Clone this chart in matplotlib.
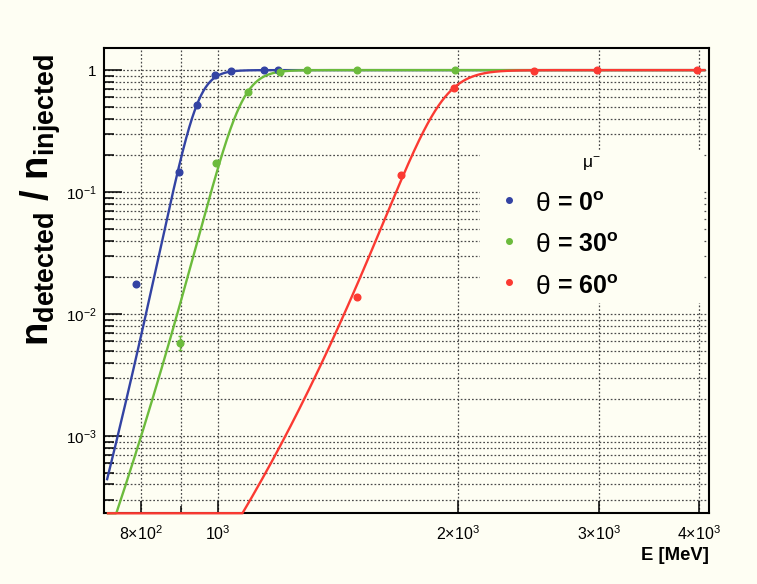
import numpy as np
import matplotlib
matplotlib.use("Agg")
import matplotlib.pyplot as plt
from matplotlib.ticker import FixedLocator, FixedFormatter, NullFormatter
from matplotlib.patches import Rectangle
from matplotlib.lines import Line2D

plt.rcParams["font.family"] = ["Liberation Sans", "DejaVu Sans"]
plt.rcParams["mathtext.fontset"] = "custom"
plt.rcParams["mathtext.rm"] = "Liberation Sans"
plt.rcParams["mathtext.it"] = "Liberation Sans:italic"
plt.rcParams["mathtext.bf"] = "Liberation Sans:bold"

# ---- measured detection efficiency for mu- at three zenith angles ----
energy_0 = [790, 895, 941, 993, 1038, 1142, 1190]
eff_0 = [0.0176, 0.145, 0.516, 0.91, 0.99, 1.0, 1.0]

energy_30 = [897, 994, 1092, 1196, 1292, 1494, 1982]
eff_30 = [0.0058, 0.172, 0.656, 0.968, 1.0, 1.0, 1.0]
err_30 = [0.00075, 0.004, 0.01, 0.004, 0.0, 0.0, 0.0]

energy_60 = [1493, 1696, 1978, 2485, 2985, 3977]
eff_60 = [0.0139, 0.138, 0.72, 0.987, 1.0, 1.0]

# logistic fit parameters: (plateau, E0 [MeV], width [MeV])
fit_0 = (1.0, 939.0, 27.5)
fit_30 = (1.0, 1064.0, 38.0)
fit_60 = (1.0, 1885.0, 97.0)
fit_range = (726.0, 4080.0)

angles = ["0", "30", "60"]
colors = ["#3343a3", "#6cbb3c", "#fb3a32"]

x_major = [800, 1000, 2000, 3000, 4000]
x_major_labels = [r"8×10$^{2}$", r"10$^{3}$", r"2×10$^{3}$",
                  r"3×10$^{3}$", r"4×10$^{3}$"]
x_minor = [900]
y_major = [1e-3, 1e-2, 1e-1, 1.0]
y_major_labels = [r"10$^{-3}$", r"10$^{-2}$", r"10$^{-1}$", "1"]

xlim = (719.0, 4118.0)
ylim = (2.32e-4, 1.51)

bg = "#fefef3"
W, H = 757, 584


def fx(px):
    return px / W


def fy(py):
    return 1.0 - py / H


def logistic(e, p):
    amp, e0, w = p
    return amp / (1.0 + np.exp(-(e - e0) / w))


fig = plt.figure(figsize=(W / 100, H / 100), dpi=100, facecolor=bg)
left, right, top, bottom = 103.5, 708.7, 48.3, 513.3
ax = fig.add_axes([fx(left), fy(bottom), (right - left) / W, (bottom - top) / H])
ax.set_facecolor(bg)
ax.set_xscale("log")
ax.set_yscale("log")
ax.set_xlim(*xlim)
ax.set_ylim(*ylim)

# ticks and grid
ax.xaxis.set_major_locator(FixedLocator(x_major))
ax.xaxis.set_major_formatter(FixedFormatter(x_major_labels))
ax.xaxis.set_minor_locator(FixedLocator(x_minor))
ax.xaxis.set_minor_formatter(NullFormatter())
ax.yaxis.set_major_locator(FixedLocator(y_major))
ax.yaxis.set_major_formatter(FixedFormatter(y_major_labels))
y_minor = [m * 10.0 ** d for d in range(-4, 0) for m in range(2, 10)]
y_minor = [v for v in y_minor if ylim[0] < v < ylim[1]]
ax.yaxis.set_minor_locator(FixedLocator(y_minor))
ax.yaxis.set_minor_formatter(NullFormatter())

ax.tick_params(axis="y", which="major", direction="in", length=13, width=1.1,
               pad=5, labelsize=11, color="black")
ax.tick_params(axis="y", which="minor", direction="in", length=7, width=1.1)
ax.tick_params(axis="x", which="major", direction="in", length=9, width=1.1,
               pad=8, labelsize=11.5)
ax.tick_params(axis="x", which="minor", direction="in", length=5, width=1.1)
ax.set_axisbelow(True)
ax.grid(which="both", color="#4a4a4a", linestyle=(0, (1.4, 1.6)), linewidth=0.9)
for s in ax.spines.values():
    s.set_linewidth(1.5)
    s.set_color("black")

# legend backing box (covers the grid)
ax.add_patch(Rectangle((fx(480), fy(303)), fx(704) - fx(480), fy(150) - fy(303),
                       transform=fig.transFigure, facecolor=bg, edgecolor="none",
                       zorder=1))

# curves and points
e_grid = np.geomspace(*fit_range, 800)
series = [(energy_0, eff_0, None, fit_0),
          (energy_30, eff_30, err_30, fit_30),
          (energy_60, eff_60, None, fit_60)]
for (e, f, err, p), c in zip(series, colors):
    curve = np.maximum(logistic(e_grid, p), ylim[0])
    ax.plot(e_grid, curve, color=c, lw=1.7, zorder=3, clip_on=False,
            solid_capstyle="butt")
    if err is not None:
        ax.errorbar(e, f, yerr=err, fmt="o", ms=4.8, color=c, ecolor=c,
                    elinewidth=1.0, capsize=1.5, zorder=4)
    else:
        ax.plot(e, f, "o", ms=4.8, color=c, zorder=4, ls="none")

# legend
fig.text(fx(591.5), fy(164), r"$\mathrm{\mu}^{-}$", ha="center", va="center",
         fontsize=12.5)
for i, (ang, c) in enumerate(zip(angles, colors)):
    yy = 200 + 41 * i
    base = fy(yy + 11.5)
    fig.add_artist(Line2D([fx(509)], [fy(yy)], marker="o", ms=4.0, color=c,
                          transform=fig.transFigure))
    fig.text(fx(536), base, "θ", ha="left", va="baseline", fontsize=19)
    fig.text(fx(557), base, "= " + ang + r"$^{\mathbf{o}}$", ha="left",
             va="baseline", fontsize=18, fontweight="bold")

# axis titles
fig.text(fx(709), fy(560), "E [MeV]", ha="right", va="baseline",
         fontweight="bold", fontsize=13.3)
fig.text(fx(41), fy(200),
         r"$\mathbf{n_{detected}}$ / $\mathbf{n_{injected}}$",
         rotation=90, ha="center", va="center", fontsize=27.5,
         fontweight="bold")

fig.savefig("out.png", dpi=100, facecolor=bg)
